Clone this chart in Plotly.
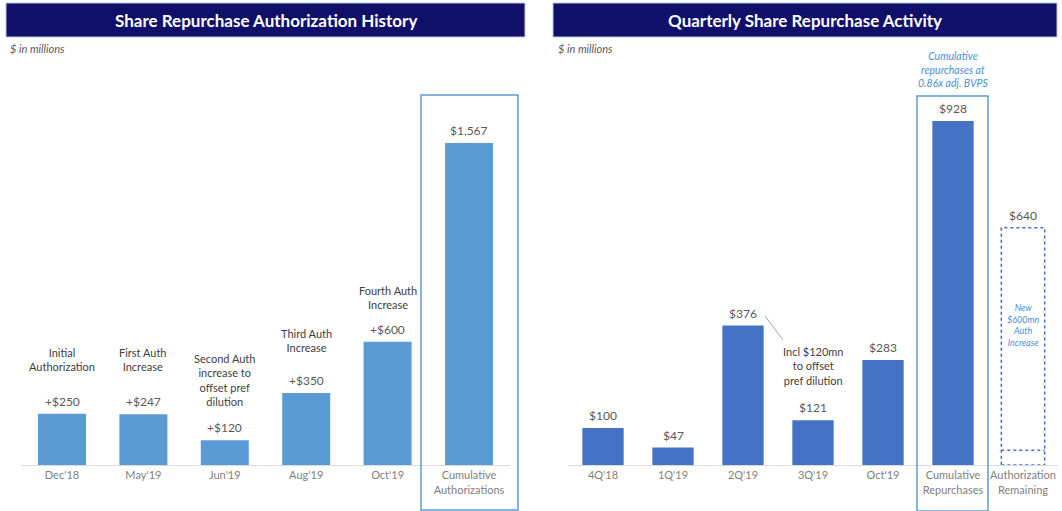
import plotly.graph_objects as go

# ---------------- data ----------------
auth_dates = ["Dec'18", "May'19", "Jun'19", "Aug'19", "Oct'19", "Cumulative<br>Authorizations"]
auth_values = [250, 247, 120, 350, 600, 1567]
auth_labels = ["+$250", "+$247", "+$120", "+$350", "+$600", "$1,567"]
auth_desc = ["Initial<br>Authorization", "First Auth<br>Increase",
             "Second Auth<br>increase to<br>offset pref<br>dilution",
             "Third Auth<br>Increase", "Fourth Auth<br>Increase", ""]

rep_periods = ["4Q'18", "1Q'19", "2Q'19", "3Q'19", "Oct'19",
               "Cumulative<br>Repurchases", "Authorization<br>Remaining"]
rep_values = [100, 47, 376, 121, 283, 928]
rep_labels = ["$100", "$47", "$376", "$121", "$283", "$928"]
remaining_total = 640
remaining_existing = 40
remaining_label = "$640"

# ---------------- style ----------------
FONT = "Lato"
NAVY = "#10106b"
LBLUE = "#5b9bd5"
DBLUE = "#4472c4"
ABLUE = "#4a8fd6"
TXT = "#404040"
VAL = "#595959"
TICK = "#808080"
W, H = 1062, 511

fig = go.Figure()

xl = list(range(len(auth_values)))
xr = list(range(len(rep_periods)))

fig.add_trace(go.Bar(x=xl, y=auth_values, marker=dict(color=LBLUE, line=dict(width=0)),
                     width=0.59, xaxis="x", yaxis="y", hoverinfo="skip"))
fig.add_trace(go.Bar(x=xr[:len(rep_values)], y=rep_values, marker=dict(color=DBLUE, line=dict(width=0)),
                     width=0.59, xaxis="x2", yaxis="y2", hoverinfo="skip"))
fig.add_trace(go.Bar(x=[xr[-1]], y=[remaining_total], marker=dict(color="rgba(0,0,0,0)"),
                     width=0.59, xaxis="x2", yaxis="y2", hoverinfo="skip"))

anns = []
shapes = []

# value labels
for i, (v, t) in enumerate(zip(auth_values, auth_labels)):
    anns.append(dict(x=i, y=v, xref="x", yref="y", text=t, showarrow=False,
                     yanchor="bottom", yshift=3, font=dict(family=FONT, size=12, color=VAL)))
desc_shift = [39, 39, 30, 37, 29, 0]
for i, (v, d) in enumerate(zip(auth_values, auth_desc)):
    if d:
        anns.append(dict(x=i, y=v, xref="x", yref="y", text=d, showarrow=False,
                         yanchor="bottom", yshift=desc_shift[i],
                         font=dict(family=FONT, size=11, color=TXT)))
for i, (v, t) in enumerate(zip(rep_values, rep_labels)):
    anns.append(dict(x=i, y=v, xref="x2", yref="y2", text=t, showarrow=False,
                     yanchor="bottom", yshift=3, font=dict(family=FONT, size=12, color=VAL)))
anns.append(dict(x=xr[-1], y=remaining_total, xref="x2", yref="y2", text=remaining_label,
                 showarrow=False, yanchor="bottom", yshift=3,
                 font=dict(family=FONT, size=12, color=VAL)))

# titles
for x0, x1, title in [(6, 525, "Share Repurchase Authorization History"),
                      (553, 1057, "Quarterly Share Repurchase Activity")]:
    shapes.append(dict(type="rect", xref="paper", yref="paper",
                       x0=x0 / W, x1=x1 / W, y0=1 - 37 / H, y1=1 - 3 / H,
                       fillcolor=NAVY, line=dict(color="#b8c4dc", width=1), layer="below"))
    anns.append(dict(x=(x0 + x1) / 2 / W, y=1 - 20 / H, xref="paper", yref="paper",
                     xanchor="center", yanchor="middle",
                     text="<b>" + title + "</b>", showarrow=False,
                     font=dict(family=FONT, size=17, color="white")))
for x0 in [8, 556]:
    anns.append(dict(x=x0 / W, y=1 - 48 / H, xref="paper", yref="paper",
                     xanchor="left", yanchor="middle",
                     text="<i>$ in millions</i>", showarrow=False,
                     font=dict(family=FONT, size=11, color="#595959")))

# cumulative boxes
shapes.append(dict(type="rect", xref="paper", yref="paper", x0=421 / W, x1=518 / W,
                   y0=1 / H, y1=1 - 95 / H, line=dict(color=LBLUE, width=1.5)))
shapes.append(dict(type="rect", xref="paper", yref="paper", x0=917 / W, x1=988 / W,
                   y0=0, y1=1 - 96 / H, line=dict(color=LBLUE, width=1.5)))

# dashed remaining box
shapes.append(dict(type="rect", xref="x2", yref="y2", x0=xr[-1] - 0.31, x1=xr[-1] + 0.31,
                   y0=0, y1=remaining_total, line=dict(color=DBLUE, width=1.5, dash="dot")))
shapes.append(dict(type="line", xref="x2", yref="y2", x0=xr[-1] - 0.31, x1=xr[-1] + 0.31,
                   y0=remaining_existing, y1=remaining_existing,
                   line=dict(color=DBLUE, width=1.5, dash="dot")))

anns.append(dict(x=5, y=1 - 84 / H, xref="x2", yref="paper", yanchor="bottom", yshift=-7,
                 text="<i>Cumulative<br>repurchases at<br>0.86x adj. BVPS</i>", showarrow=False,
                 font=dict(family=FONT, size=10.5, color=ABLUE)))
anns.append(dict(x=6, y=1 - 325 / H, xref="x2", yref="paper", yanchor="middle",
                 text="<i>New<br>$600mn<br>Auth<br>Increase</i>", showarrow=False,
                 font=dict(family=FONT, size=9, color=ABLUE)))

# callout
anns.append(dict(x=3, y=1 - 366 / H, xref="x2", yref="paper", yanchor="middle",
                 text="Incl $120mn<br>to offset<br>pref dilution", showarrow=False,
                 font=dict(family=FONT, size=11, color=TXT)))
shapes.append(dict(type="line", xref="paper", yref="paper",
                   x0=765 / W, y0=1 - 316 / H, x1=783 / W, y1=1 - 340 / H,
                   line=dict(color="#a6a6a6", width=1)))

ybot = (H - 465) / H
ytop = (H - 40) / H
axis_common = dict(showgrid=False, zeroline=False, showline=True, linecolor="#d9d9d9",
                   linewidth=1, ticks="", tickfont=dict(family=FONT, size=11, color=TICK))

fig.update_layout(
    width=W, height=H, margin=dict(l=0, r=0, t=0, b=0),
    paper_bgcolor="white", plot_bgcolor="white", showlegend=False,
    xaxis=dict(domain=[21.3 / W, 509.7 / W], range=[-0.5, 5.5], tickmode="array",
               tickvals=xl, ticktext=auth_dates, anchor="y", **axis_common),
    yaxis=dict(domain=[ybot, ytop], range=[0, 425 / (322 / 1567)], visible=False, anchor="x"),
    xaxis2=dict(domain=[568 / W, 1058 / W], range=[-0.5, 6.5], tickmode="array",
                tickvals=xr, ticktext=rep_periods, anchor="y2", **axis_common),
    yaxis2=dict(domain=[ybot, ytop], range=[0, 425 / (344 / 928)], visible=False, anchor="x2"),
    annotations=anns, shapes=shapes, bargap=0.41,
)

fig.write_html("out.html", config={"displayModeBar": False},
               post_script="document.body.style.margin='0';")
